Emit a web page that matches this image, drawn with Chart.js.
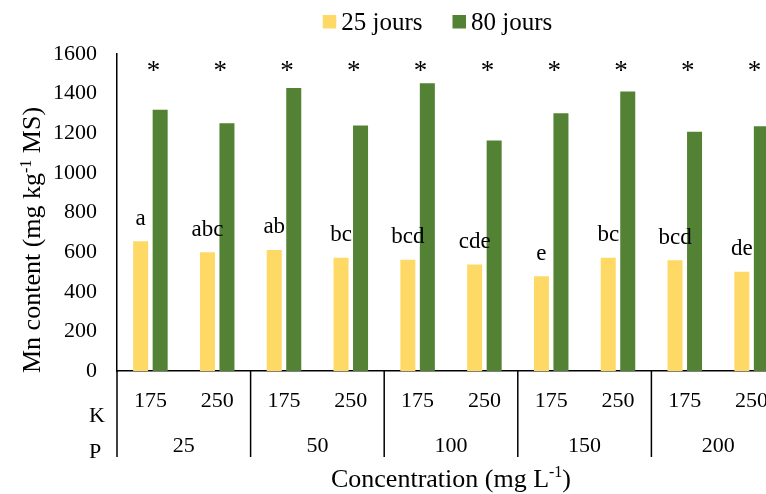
<!DOCTYPE html>
<html>
<head>
<meta charset="utf-8">
<script src="https://cdn.jsdelivr.net/npm/chart.js@4/dist/chart.umd.min.js"></script>
<style>
  html, body { margin: 0; padding: 0; background: #fff; overflow: hidden; width: 766px; height: 494px; }
  canvas { display: block; }
</style>
</head>
<body>
<canvas id="chart" width="875" height="494"></canvas>
<script>
// K level for each bar pair, P level for each group of two pairs
const kLabels = ['175', '250', '175', '250', '175', '250', '175', '250', '175', '250'];
const pLabels = ['25', '50', '100', '150', '200'];

// Mn content (mg kg-1 MS) at each sampling date
const seriesNames = ['25 jours', '80 jours'];
const day25 = [655, 600, 611, 572, 562, 537, 478, 572, 559, 501];
const day80 = [1318, 1251, 1428, 1239, 1452, 1163, 1301, 1411, 1208, 1235];

// Significance letters (25 jours) and marks (80 jours)
const letters25 = ['a', 'abc', 'ab', 'bc', 'bcd', 'cde', 'e', 'bc', 'bcd', 'de'];
const marks80 = ['*', '*', '*', '*', '*', '*', '*', '*', '*', '*'];

// Value axis
const yMin = 0, yMax = 1600, yStep = 200;

// Axis titles, split where the unit exponent is raised
const xTitle = [['Concentration (mg L', false], ['-1', true], [')', false]];
const yTitle = [['Mn content (mg kg', false], ['-1', true], [' MS)', false]];

const SERIF = "'Liberation Serif', 'Times New Roman', 'DejaVu Serif', serif";
const YELLOW = '#FFD966';
const GREEN = '#548235';

// Writes a run of text with raised exponent parts, starting at (0, 0)
function measureRuns(ctx, runs, size, supSize) {
  let w = 0;
  runs.forEach(([t, sup]) => {
    ctx.font = (sup ? supSize : size) + 'px ' + SERIF;
    w += ctx.measureText(t).width;
  });
  return w;
}
function drawRuns(ctx, runs, x, y, size, supSize) {
  runs.forEach(([t, sup]) => {
    ctx.font = (sup ? supSize : size) + 'px ' + SERIF;
    ctx.fillText(t, x, sup ? y - size * 0.36 : y);
    x += ctx.measureText(t).width;
  });
}

// Legend row above the plot: small square then label
const legendRow = {
  id: 'legendRow',
  afterDraw(chart) {
    const ctx = chart.ctx;
    ctx.save();
    ctx.font = '25px ' + SERIF;
    ctx.textBaseline = 'alphabetic';
    ctx.textAlign = 'left';
    const box = 13.5, gapText = 5, gapItem = 30;
    const items = chart.data.datasets.map(d => ({
      label: d.label, color: d.backgroundColor, w: ctx.measureText(d.label).width
    }));
    const total = items.reduce((s, it) => s + box + gapText + it.w, 0) + gapItem * (items.length - 1);
    let x = chart.width / 2 - total / 2;
    items.forEach(it => {
      ctx.fillStyle = it.color;
      ctx.fillRect(x, 15, box, box);
      ctx.fillStyle = '#000';
      ctx.fillText(it.label, x + box + gapText, 30);
      x += box + gapText + it.w + gapItem;
    });
    ctx.restore();
  }
};

// Letters over the 25-day bars, stars over the 80-day bars,
// the K / P rows of the category axis and both axis titles
const annotations = {
  id: 'annotations',
  afterDraw(chart) {
    const ctx = chart.ctx;
    const xs = chart.scales.x;
    const area = chart.chartArea;
    ctx.save();
    ctx.fillStyle = '#000';
    ctx.textAlign = 'center';
    ctx.textBaseline = 'alphabetic';

    ctx.font = '23px ' + SERIF;
    chart.getDatasetMeta(0).data.forEach((bar, i) => {
      ctx.fillText(letters25[i], bar.x, bar.y - 16.5);
    });

    ctx.font = '27px ' + SERIF;
    marks80.forEach((m, i) => {
      ctx.fillText(m, xs.getPixelForValue(i) + 3, area.top + 25);
    });

    // group separators below the axis
    const n = pLabels.length;
    const edges = [];
    for (let g = 0; g <= n; g++) {
      if (g === 0) edges.push(area.left);
      else if (g === n) edges.push(area.right);
      else edges.push((xs.getPixelForValue(2 * g - 1) + xs.getPixelForValue(2 * g)) / 2);
    }
    ctx.strokeStyle = '#000';
    ctx.lineWidth = 1.5;
    edges.forEach(e => {
      ctx.beginPath();
      ctx.moveTo(e, area.bottom);
      ctx.lineTo(e, 457);
      ctx.stroke();
    });

    ctx.font = '22px ' + SERIF;
    pLabels.forEach((p, g) => {
      ctx.fillText(p, (edges[g] + edges[g + 1]) / 2, 451.5);
    });
    ctx.fillText('K', 97, 421.5);
    ctx.fillText('P', 95, 458);

    // axis titles
    ctx.textAlign = 'left';
    const xw = measureRuns(ctx, xTitle, 26, 16);
    drawRuns(ctx, xTitle, (area.left + area.right) / 2 - xw / 2, 486.5, 26, 16);

    ctx.translate(40, area.bottom + 2);
    ctx.rotate(-Math.PI / 2);
    drawRuns(ctx, yTitle, 0, 0, 26, 16);
    ctx.restore();
  }
};

new Chart(document.getElementById('chart'), {
  type: 'bar',
  data: {
    labels: kLabels,
    datasets: [
      { label: seriesNames[0], data: day25, backgroundColor: YELLOW },
      { label: seriesNames[1], data: day80, backgroundColor: GREEN }
    ]
  },
  options: {
    responsive: false,
    devicePixelRatio: 1,
    animation: false,
    layout: { padding: { left: 0, right: 90, top: 54, bottom: 0 } },
    datasets: { bar: { categoryPercentage: 0.584, barPercentage: 0.77 } },
    plugins: { legend: { display: false }, tooltip: { enabled: false } },
    scales: {
      x: {
        grid: { display: false, drawTicks: false },
        border: { display: true, color: '#000', width: 1.5 },
        ticks: { color: '#000', font: { family: SERIF, size: 22 }, padding: 17, autoSkip: false, maxRotation: 0 },
        afterFit(scale) { scale.height = 123; }
      },
      y: {
        min: yMin, max: yMax,
        grid: { display: false, drawTicks: false },
        border: { display: true, color: '#000', width: 1.5 },
        ticks: {
          stepSize: yStep, color: '#000', font: { family: SERIF, size: 22 }, padding: 20,
          callback: v => String(v)
        },
        afterFit(scale) { scale.width = 117; }
      }
    }
  },
  plugins: [legendRow, annotations]
});
</script>
</body>
</html>
